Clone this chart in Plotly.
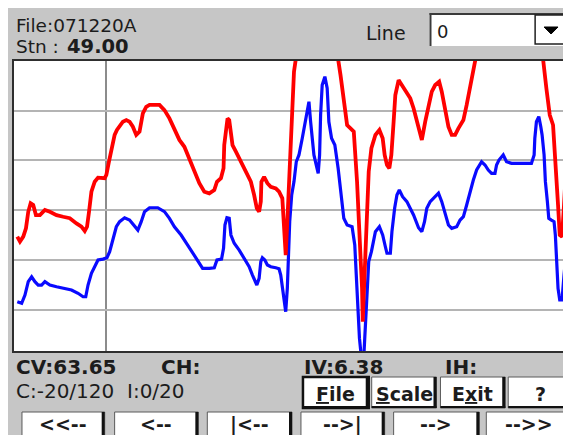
import plotly.graph_objects as go

# -------------------------------
# survey readings along the line
# -------------------------------
file_name = "071220A"
line_no = "0"
cursor_station = 49.00
cv_reading = 63.65
iv_reading = 6.38
c_scale = [-20, 120]
i_scale = [0, 20]
c_grid = [0, 24, 48, 72, 96]

# conductivity (red)
c_station = [
    40.13, 40.40, 40.73, 41.00, 41.23, 41.47, 41.73, 42.00, 42.40, 42.90,
    43.40, 44.07, 44.73, 45.40, 46.07, 46.57, 46.90, 47.13, 47.33, 47.57,
    47.90, 48.23, 48.90, 49.07, 49.33, 49.57, 49.90, 50.13, 50.40, 50.73,
    51.07, 51.40, 51.73, 52.07, 52.40, 52.73, 53.07, 53.40, 54.40, 54.90,
    55.40, 55.90, 56.40, 56.90, 57.40, 57.90, 58.40, 58.90, 59.40, 59.90,
    60.17, 60.57, 60.83, 60.90, 61.07, 61.23, 61.40, 61.57, 61.73, 62.07,
    62.57, 63.07, 63.57, 63.90, 64.17, 64.40, 64.57, 64.63, 64.90, 65.23,
    65.57, 66.07, 66.40, 66.73, 66.90, 67.07, 67.23, 67.40, 67.57, 67.67,
    67.80, 67.90, 68.07, 68.20, 72.20, 72.33, 72.57, 72.90, 73.23, 73.57,
    73.90, 74.23, 74.40, 74.57, 74.73, 74.80, 74.93, 75.07, 75.23, 75.40,
    75.67, 76.07, 76.47, 76.80, 77.00, 77.23, 77.47, 77.67, 77.90, 78.07,
    78.40, 78.73, 79.23, 79.57, 79.90, 80.23, 80.40, 80.73, 81.07, 81.40,
    81.73, 82.07, 82.47, 82.73, 83.07, 83.40, 83.73, 84.07, 84.40, 84.90,
    85.23, 85.57, 85.90, 86.23, 86.40, 92.80, 92.90, 93.23, 93.57, 93.90,
    94.07, 94.23, 94.40, 94.57, 94.80, 95.00, 95.13, 95.40,
]
c_value = [
    35.2, 32.8, 35.2, 39.2, 47.2, 51.3, 50.5, 45.6, 45.6, 48.1,
    47.2, 45.6, 44.8, 44.1, 41.6, 40.0, 37.9, 40.0, 47.2, 56.9,
    61.7, 63.7, 63.4, 65.0, 71.4, 76.2, 84.3, 86.7, 88.3, 90.7,
    91.5, 90.7, 88.3, 84.3, 85.9, 94.7, 97.9, 98.8, 98.8, 96.3,
    92.3, 86.7, 81.9, 78.6, 73.0, 67.4, 61.0, 56.9, 56.1, 57.7,
    61.7, 63.4, 68.2, 79.4, 87.5, 92.3, 91.5, 84.3, 79.4, 76.2,
    71.4, 66.6, 61.7, 55.3, 48.9, 47.2, 52.1, 61.7, 64.1, 61.0,
    59.3, 58.5, 56.9, 53.7, 42.4, 26.3, 42.4, 61.7, 74.6, 90.7,
    106.8, 114.8, 120.5, 128.0, 128.0, 120.8, 113.2, 102.0, 89.1, 87.5,
    85.9, 61.7, 47.2, 26.3, 10.3, -5.9, 10.3, 26.3, 50.5, 66.6,
    77.9, 84.3, 86.7, 82.7, 74.6, 69.8, 68.2, 74.6, 90.7, 103.6,
    110.8, 108.4, 105.2, 102.0, 97.2, 90.7, 87.5, 81.9, 90.7, 98.8,
    105.2, 108.4, 110.0, 105.2, 97.2, 88.3, 84.3, 84.3, 87.5, 91.5,
    98.8, 106.8, 114.8, 120.5, 128.0, 128.0, 120.8, 106.8, 93.9, 89.1,
    77.9, 66.6, 50.5, 36.0, 35.2, 50.5, 61.7, 63.4,
]

# inphase (blue)
i_station = [
    40.13, 40.57, 40.90, 41.23, 41.57, 41.90, 42.23, 42.57, 42.90, 43.40,
    44.07, 44.90, 45.57, 46.23, 46.73, 47.00, 47.23, 47.57, 47.90, 48.23,
    48.73, 49.13, 49.40, 49.73, 50.07, 50.40, 50.90, 51.40, 51.90, 52.23,
    52.57, 52.90, 53.40, 54.23, 54.90, 55.40, 55.90, 56.57, 57.23, 57.90,
    58.40, 58.73, 59.40, 59.90, 60.17, 60.63, 60.83, 60.97, 61.17, 61.40,
    61.57, 61.90, 62.40, 62.90, 63.40, 63.73, 63.97, 64.17, 64.40, 64.57,
    64.73, 64.97, 65.23, 65.57, 66.07, 66.40, 66.57, 66.73, 66.90, 67.07,
    67.23, 67.33, 67.47, 67.67, 67.90, 68.13, 68.40, 68.73, 69.00, 69.23,
    69.40, 69.57, 69.73, 69.90, 70.13, 70.33, 70.47, 70.57, 70.73, 71.00,
    71.23, 71.40, 71.67, 72.00, 72.33, 72.57, 72.90, 73.23, 73.73, 74.00,
    74.13, 74.33, 74.47, 74.67, 74.90, 75.00, 75.13, 75.23, 75.40, 75.67,
    76.07, 76.47, 76.80, 77.07, 77.23, 77.57, 77.73, 78.00, 78.23, 78.47,
    78.80, 79.23, 79.57, 79.90, 80.40, 80.73, 81.00, 81.23, 81.57, 82.00,
    82.40, 82.73, 83.07, 83.40, 83.73, 84.23, 84.57, 84.90, 85.23, 85.57,
    85.90, 86.23, 86.73, 87.07, 87.40, 87.73, 88.07, 88.23, 88.47, 88.90,
    89.23, 89.73, 91.73, 92.00, 92.07, 92.23, 92.47, 92.67, 92.80, 93.00,
    93.13, 93.33, 93.47, 93.73, 94.00, 94.13, 94.23, 94.40, 94.57, 94.80,
    95.00, 95.13, 95.33, 95.50,
]
i_value = [
    3.40, 3.29, 3.86, 4.78, 5.12, 4.78, 4.55, 4.55, 4.78, 4.55,
    4.43, 4.32, 4.21, 3.98, 3.74, 3.74, 4.55, 5.36, 5.81, 6.28,
    6.34, 6.43, 6.85, 7.65, 8.57, 8.92, 9.19, 9.03, 8.57, 8.34,
    8.92, 9.61, 9.88, 9.88, 9.61, 9.15, 8.57, 8.00, 7.31, 6.62,
    6.05, 5.70, 5.70, 5.74, 6.28, 6.34, 7.08, 8.69, 9.19, 9.15,
    8.00, 7.43, 6.96, 6.39, 5.81, 5.24, 4.78, 4.55, 5.01, 6.16,
    6.43, 6.28, 5.93, 5.81, 5.74, 5.67, 5.24, 4.32, 3.40, 2.71,
    4.32, 6.62, 8.92, 10.76, 11.68, 13.05, 13.52, 14.67, 15.81, 16.74,
    17.19, 15.81, 14.67, 13.52, 12.83, 12.25, 13.52, 16.28, 18.34, 18.92,
    18.12, 15.81, 14.67, 14.21, 12.60, 11.22, 9.15, 8.69, 8.57, 7.31,
    5.47, 2.94, 0.87, -0.50, -0.50, 0.87, 2.94, 4.32, 6.16, 6.85,
    8.23, 8.57, 8.00, 7.19, 6.74, 6.74, 8.23, 9.84, 10.76, 11.10,
    10.64, 10.30, 9.84, 9.38, 8.50, 8.23, 8.92, 9.84, 10.30, 10.64,
    10.88, 10.30, 9.38, 8.69, 8.46, 8.57, 9.03, 9.26, 10.07, 10.99,
    11.79, 12.48, 13.05, 12.83, 12.48, 12.25, 12.25, 12.83, 13.17, 13.52,
    13.05, 12.94, 12.94, 13.52, 14.67, 15.81, 16.16, 15.47, 14.90, 13.52,
    11.68, 10.30, 9.15, 9.03, 8.92, 8.00, 6.16, 4.32, 3.52, 3.52,
    5.24, 6.16, 6.28, 6.05,
]

# -------------------------------
# screen geometry
# the page body adds an 8px white margin, so the figure starts at (8, 8)
# and everything below is laid out in window pixels
# -------------------------------
OFF = 8
W, H = 571 - OFF, 435 - OFF
ML, MR, MT, MB = 14 - OFF, 0, 61 - OFF, 435 - 351
PW = W - ML - MR
PH = H - MT - MB
BG = "#c6c6c6"
FONT = "DejaVu Sans"


def fx(px):
    return (px - OFF - ML) / PW


def fy(py):
    return (H - MB - (py - OFF)) / PH


shapes = []
annotations = []


def rect(x0, y0, x1, y1, fill, line="rgba(0,0,0,0)", lw=0, layer="above"):
    shapes.append(dict(
        type="rect", xref="paper", yref="paper",
        x0=fx(x0), x1=fx(x1), y0=fy(y1), y1=fy(y0),
        fillcolor=fill, line=dict(color=line, width=lw), layer=layer,
    ))


def seg(x0, y0, x1, y1, color, lw):
    shapes.append(dict(
        type="line", xref="paper", yref="paper",
        x0=fx(x0), x1=fx(x1), y0=fy(y0), y1=fy(y1),
        line=dict(color=color, width=lw), layer="above",
    ))


def label(px, py, text, size=19, anchor="left"):
    annotations.append(dict(
        xref="paper", yref="paper", x=fx(px), y=fy(py), text=text,
        showarrow=False, xanchor=anchor, yanchor="middle", borderpad=0,
        font=dict(family=FONT, size=size, color="#1c1c1c"),
    ))


def button(x0, y0, x1, y1, text, default=False, ty=None):
    rect(x0, y0, x1, y1, "white", "#5a5a5a", 1)
    seg(x1 - 1.5, y0, x1 - 1.5, y1, "#111111", 3)
    seg(x0, y1 - 1, x1, y1 - 1, "#111111", 2)
    if default:
        rect(x0, y0, x1, y1, "rgba(0,0,0,0)", "#111111", 2.5)
    label((x0 + x1) / 2, ty if ty else (y0 + y1) / 2 + 1, f"<b>{text}</b>", 19, "center")


# header
label(15, 25.5, f"File:{file_name}", 18.5)
label(15, 47, "Stn :", 18.5)
label(66, 47, f"<b>{cursor_station:.2f}</b>", 19.5)
label(366, 33, "Line", 19)

# line selector
rect(431, 13, 569, 46, "white")
seg(431, 14, 569, 14, "#3a3a3a", 2)
seg(432, 13, 432, 46, "#3a3a3a", 2)
rect(537, 15, 567, 44, "white", "#202020", 1.5)
shapes.append(dict(
    type="path", xref="paper", yref="paper",
    path=f"M {fx(546)} {fy(27)} L {fx(560)} {fy(27)} L {fx(553)} {fy(34)} Z",
    fillcolor="black", line=dict(color="black", width=1), layer="above",
))
label(438, 31, line_no, 18)

# readouts
label(15, 367, f"<b>CV:{cv_reading:.2f}</b>", 20)
label(161, 367, "<b>CH:</b>", 20)
label(304, 367, f"<b>IV:{iv_reading:.2f}</b>", 20)
label(446, 367, "<b>IH:</b>", 20)
label(15, 391, f"C:{c_scale[0]}/{c_scale[1]}  I:{i_scale[0]}/{i_scale[1]}", 20)

# buttons
button(304, 377, 370, 408, "<u>F</u>ile", default=True)
button(373, 377, 438, 408, "<u>S</u>cale")
button(442, 377, 507, 408, "E<u>x</u>it")
button(510, 377, 574, 408, "?")
for x0, x1, t in [(22, 105, "&lt;&lt;--"), (115, 199, "&lt;--"), (208, 293, "|&lt;--"),
                  (302, 386, "--&gt;|"), (395, 481, "--&gt;"), (488, 574, "--&gt;&gt;")]:
    button(x0, 412, x1, 440, t, ty=424)

fig = go.Figure()

fig.add_trace(go.Scatter(
    x=i_station, y=i_value, yaxis="y", mode="lines",
    line=dict(color="#0a0aff", width=3.2), hoverinfo="skip",
))
fig.add_trace(go.Scatter(
    x=c_station, y=c_value, yaxis="y2", mode="lines",
    line=dict(color="#ff0000", width=3.8), hoverinfo="skip",
))

fig.update_layout(
    width=W, height=H,
    margin=dict(l=ML, r=MR, t=MT, b=MB, pad=0),
    paper_bgcolor=BG, plot_bgcolor="white",
    showlegend=False,
    shapes=shapes, annotations=annotations,
    xaxis=dict(
        range=[39.8, 95.5], tickvals=[cursor_station], showticklabels=False,
        showgrid=True, gridcolor="#8c8c8c", gridwidth=1.5, zeroline=False,
        showline=True, mirror=True, linecolor="#2e2e2e", linewidth=2, ticks="",
    ),
    yaxis=dict(
        range=i_scale, showgrid=False, zeroline=False, showticklabels=False,
        showline=True, mirror=True, linecolor="#2e2e2e", linewidth=2, ticks="",
    ),
    yaxis2=dict(
        range=c_scale, overlaying="y", tickvals=c_grid, showticklabels=False,
        showgrid=True, gridcolor="#b4b4b4", gridwidth=2, zeroline=False, ticks="",
    ),
)

fig.write_html("out.html")
